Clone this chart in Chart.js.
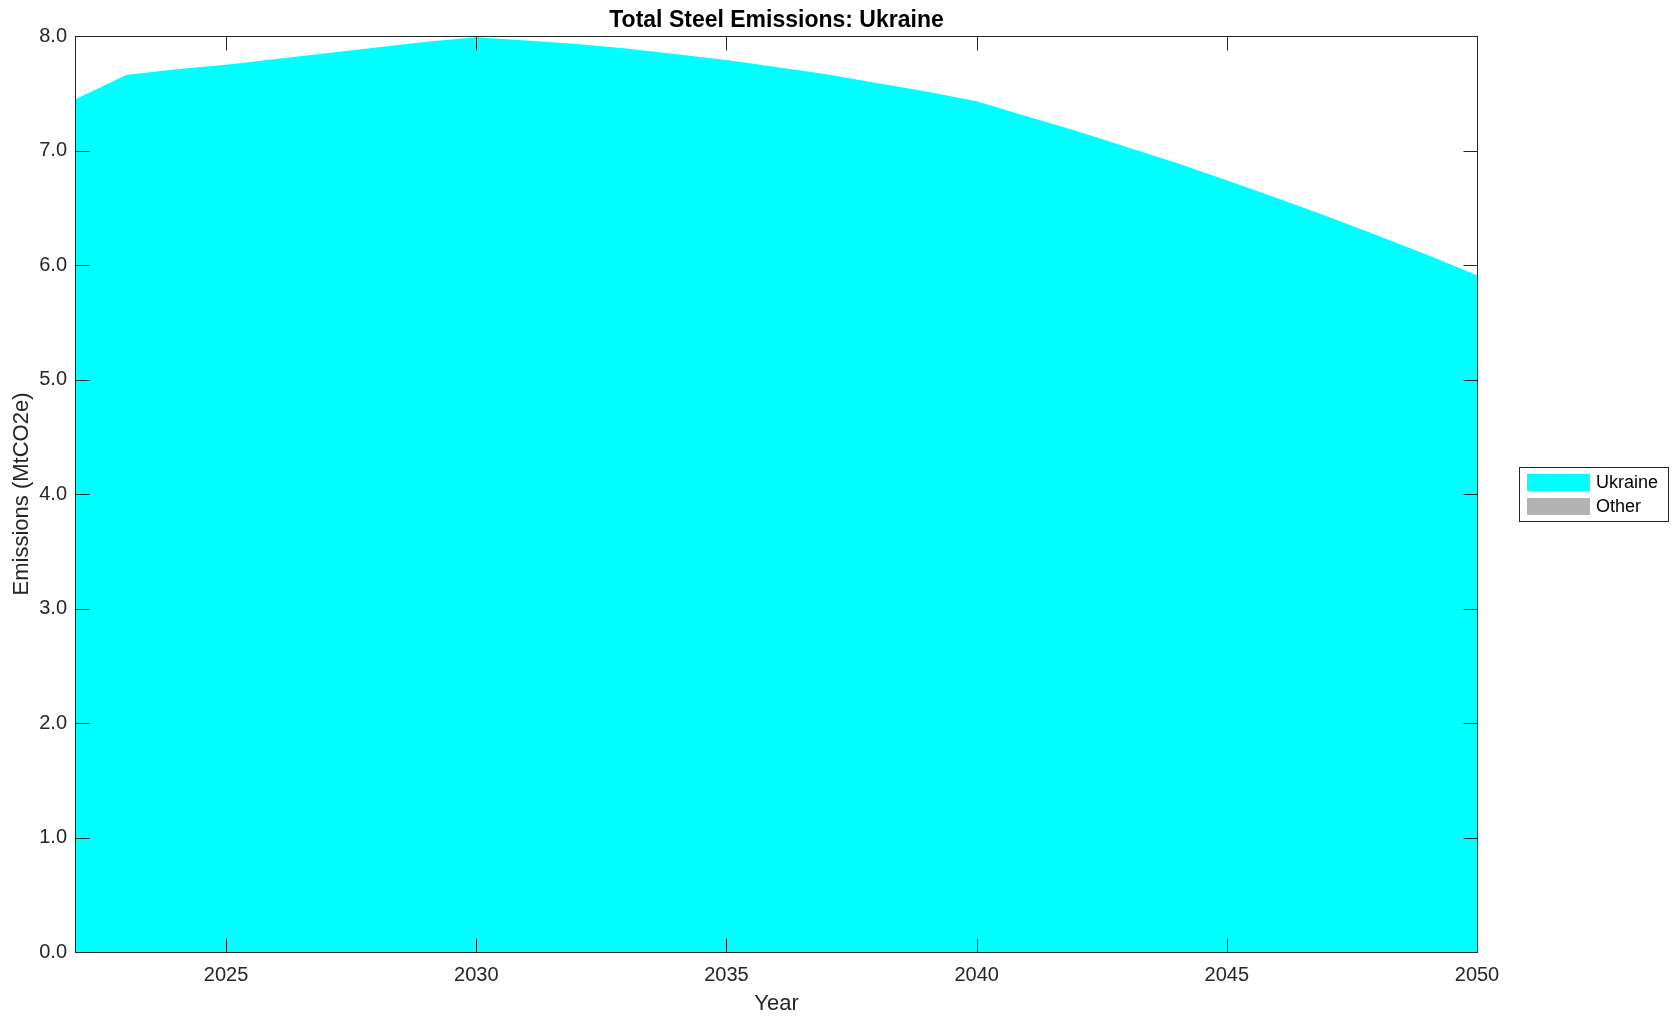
<!DOCTYPE html>
<html><head><meta charset="utf-8">
<script src="https://cdn.jsdelivr.net/npm/chart.js@4.4.1/dist/chart.umd.min.js"></script>
<style>html,body{margin:0;padding:0;background:#fff;overflow:hidden}</style>
</head><body>
<canvas id="c" width="1679" height="1021"></canvas>
<script>
const years = [2022,2023,2024,2025,2026,2027,2028,2029,2030,2031,2032,2033,2034,2035,2036,2037,2038,2039,2040,2041,2042,2043,2044,2045,2046,2047,2048,2049,2050];
const ukraine = [7.45,7.66,7.71,7.75,7.80,7.85,7.90,7.95,7.99,7.96,7.93,7.89,7.84,7.79,7.73,7.665,7.59,7.515,7.43,7.30,7.17,7.03,6.89,6.74,6.585,6.425,6.26,6.09,5.91];
const other = [0,0,0,0,0,0,0,0,0,0,0,0,0,0,0,0,0,0,0,0,0,0,0,0,0,0,0,0,0];
const xTicks = [2025,2030,2035,2040,2045,2050];
const yTicks = [0,1,2,3,4,5,6,7,8];
const seriesLabels = ['Ukraine','Other'];
const seriesColors = ['#00ffff','#b3b3b3'];
const titleText = 'Total Steel Emissions: Ukraine';
const xTitle = 'Year';
const yTitle = 'Emissions (MtCO2e)';

const FONT = '"Liberation Sans", Arial, Helvetica, sans-serif';
const AXC = '#262626';

const pts = arr => years.map((y, i) => ({x: y, y: arr[i]}));

const framePlugin = {
  id: 'frame',
  afterDraw(chart) {
    const {ctx, chartArea: a, scales: {x, y}} = chart;
    ctx.save();
    ctx.strokeStyle = AXC;
    ctx.lineWidth = 1;
    const L = Math.round(a.left) - 0.5, R = Math.round(a.right) + 0.5;
    const T = Math.round(a.top) + 0.5, B = Math.round(a.bottom) + 0.5;
    ctx.strokeRect(L, T, R - L, B - T);
    const tl = 14;
    ctx.beginPath();
    xTicks.forEach(v => {
      const px = Math.round(x.getPixelForValue(v)) + 0.5;
      ctx.moveTo(px, B); ctx.lineTo(px, B - tl);
      ctx.moveTo(px, T); ctx.lineTo(px, T + tl);
    });
    yTicks.forEach(v => {
      const py = Math.round(y.getPixelForValue(v)) + 0.5;
      ctx.moveTo(L, py); ctx.lineTo(L + tl, py);
      ctx.moveTo(R, py); ctx.lineTo(R - tl, py);
    });
    ctx.stroke();
    // legend
    const lx = 1519.5, ly = 467.5, lw = 149, lh = 54;
    ctx.fillStyle = '#fff';
    ctx.fillRect(lx, ly, lw, lh);
    ctx.strokeRect(lx, ly, lw, lh);
    ctx.font = '18px ' + FONT;
    ctx.textBaseline = 'middle';
    ctx.textAlign = 'left';
    chart.data.datasets.forEach((ds, i) => {
      const sy = 474 + i * 24;
      ctx.fillStyle = ds.backgroundColor;
      ctx.fillRect(1527, sy, 63, 17);
      ctx.fillStyle = '#000';
      ctx.fillText(ds.label, 1596, sy + 9.5);
    });
    ctx.restore();
  }
};

new Chart(document.getElementById('c'), {
  type: 'line',
  data: {
    datasets: [
      {label: seriesLabels[0], data: pts(ukraine), backgroundColor: seriesColors[0], borderWidth: 0, pointRadius: 0, fill: 'origin', tension: 0},
      {label: seriesLabels[1], data: pts(other), backgroundColor: seriesColors[1], borderWidth: 0, pointRadius: 0, fill: '-1', tension: 0}
    ]
  },
  options: {
    responsive: false,
    devicePixelRatio: 1,
    animation: false,
    layout: {padding: {left: 0, right: 202, top: 0, bottom: 0}},
    plugins: {
      legend: {display: false},
      tooltip: {enabled: false},
      title: {display: true, fullSize: false, text: titleText, color: '#000',
        font: {family: FONT, size: 23, weight: 'bold', lineHeight: 1.2},
        padding: {top: 7.2, bottom: 1.2}}
    },
    scales: {
      x: {
        type: 'linear', min: 2022, max: 2050,
        grid: {display: false, drawTicks: false}, border: {display: false},
        afterBuildTicks: s => { s.ticks = xTicks.map(v => ({value: v})); },
        afterFit: s => { s.height = 69; },
        ticks: {color: AXC, font: {family: FONT, size: 20}, padding: 11, maxRotation: 0, autoSkip: false,
          callback: v => String(v)},
        title: {display: true, text: xTitle, color: AXC, font: {family: FONT, size: 22}, padding: {top: 0, bottom: 4}}
      },
      y: {
        min: 0, max: 8, stacked: true,
        grid: {display: false, drawTicks: false}, border: {display: false},
        afterBuildTicks: s => { s.ticks = yTicks.map(v => ({value: v})); },
        afterFit: s => { s.width = 76; },
        ticks: {color: AXC, font: {family: FONT, size: 20}, padding: 9, autoSkip: false,
          callback: v => Number(v).toFixed(1)},
        title: {display: true, text: yTitle, color: AXC, font: {family: FONT, size: 22}, padding: {top: 9, bottom: 0}}
      }
    }
  },
  plugins: [framePlugin]
});
</script>
</body></html>
